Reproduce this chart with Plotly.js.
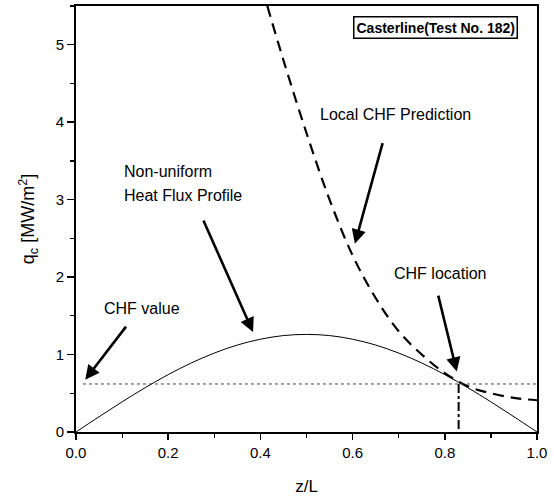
<!DOCTYPE html>
<html>
<head>
<meta charset="utf-8">
<script src="https://cdn.plot.ly/plotly-3.0.1.min.js"></script>
<style>
  html, body { margin: 0; padding: 0; background: #fff; }
  #chart { width: 554px; height: 497px; }
</style>
</head>
<body>
<div id="chart"></div>
<script>
// Non-uniform heat flux profile (solid thin)
const heatZ = [0, 0.05, 0.10, 0.15, 0.20, 0.25, 0.30, 0.35, 0.40, 0.45, 0.50, 0.55, 0.60, 0.65, 0.70, 0.75, 0.80, 0.85, 0.90, 0.95, 1.00];
const heatQ = [0, 0.197, 0.389, 0.572, 0.741, 0.891, 1.019, 1.123, 1.198, 1.245, 1.26, 1.245, 1.198, 1.123, 1.019, 0.891, 0.741, 0.572, 0.389, 0.197, 0];

// Local CHF prediction (dashed)
const chfZ = [0.415, 0.45, 0.50, 0.55, 0.60, 0.65, 0.70, 0.75, 0.80, 0.85, 0.90, 0.95, 1.00];
const chfQ = [5.50, 4.80, 3.86, 3.00, 2.28, 1.73, 1.30, 1.00, 0.76, 0.59, 0.50, 0.44, 0.41];

// CHF value (dotted horizontal) and CHF location (dash-dot vertical)
const chfValue = 0.62;
const chfValueZ = [0.015, 1.0];
const chfLocationZ = 0.83;

const xTicks = [0.0, 0.2, 0.4, 0.6, 0.8, 1.0];
const xTickText = ["0.0", "0.2", "0.4", "0.6", "0.8", "1.0"];
const yTicks = [0, 1, 2, 3, 4, 5];
const yTickText = ["0", "1", "2", "3", "4", "5"];

const FONT = "Liberation Sans, Arial, Helvetica, sans-serif";

const traces = [
  { x: heatZ, y: heatQ, mode: "lines", line: { color: "#000", width: 1, shape: "spline", smoothing: 1 }, hoverinfo: "skip" },
  { x: chfZ, y: chfQ, mode: "lines", line: { color: "#000", width: 2.2, dash: "11px,7px", shape: "spline" }, hoverinfo: "skip" },
  { x: chfValueZ, y: [chfValue, chfValue], mode: "lines", line: { color: "#444", width: 1, dash: "dot" }, hoverinfo: "skip" },
  { x: [chfLocationZ, chfLocationZ], y: [chfValue, 0], mode: "lines", line: { color: "#000", width: 2, dash: "dashdot" }, hoverinfo: "skip" }
];

function arrow(hx, hy, tx, ty) {
  return {
    x: hx, y: hy, ax: tx, ay: ty, xref: "x", yref: "y", axref: "x", ayref: "y",
    text: "", showarrow: true, arrowhead: 2, arrowsize: 1.1, arrowwidth: 2.6, arrowcolor: "#000"
  };
}
function label(x, y, text, size) {
  return { x: x, y: y, xref: "x", yref: "y", text: text, showarrow: false,
           xanchor: "left", yanchor: "middle", font: { family: FONT, size: size || 16, color: "#000" } };
}

const layout = {
  width: 554, height: 497,
  margin: { l: 76, r: 17, t: 6, b: 65 },
  paper_bgcolor: "#fff", plot_bgcolor: "#fff",
  showlegend: false,
  font: { family: FONT, color: "#000", size: 14 },
  xaxis: {
    range: [0, 1], tickvals: xTicks, ticktext: xTickText,
    showgrid: false, zeroline: false, showline: true, linecolor: "#000", linewidth: 2, mirror: true,
    ticks: "outside", ticklen: 6, tickwidth: 1.5, tickcolor: "#000",
    minor: { dtick: 0.1, ticks: "outside", ticklen: 4, tickwidth: 1.2, tickcolor: "#000", showgrid: false },
    tickfont: { size: 15 },
    title: { text: "z/L", font: { size: 17 }, standoff: 20 }
  },
  yaxis: {
    range: [0, 5.5], tickvals: yTicks, ticktext: yTickText,
    showgrid: false, zeroline: false, showline: true, linecolor: "#000", linewidth: 2, mirror: true,
    ticks: "outside", ticklen: 7, tickwidth: 1.5, tickcolor: "#000",
    minor: { dtick: 0.5, ticks: "outside", ticklen: 4, tickwidth: 1.2, tickcolor: "#000", showgrid: false },
    tickfont: { size: 15 },
    title: { text: "q<sub>c</sub> [MW/m<sup>2</sup>]", font: { size: 18 }, standoff: 16 }
  },
  annotations: [
    { xref: "paper", yref: "paper", x: 0.600, y: 0.950, xanchor: "left", yanchor: "middle",
      text: "<b>Casterline(Test No. 182)</b>", showarrow: false,
      font: { family: FONT, size: 14, color: "#000" },
      bordercolor: "#000", borderwidth: 1.5, borderpad: 2, bgcolor: "#fff" },
    label(0.525, 4.10, "Local CHF Prediction"),
    label(0.100, 3.36, "Non-uniform"),
    label(0.100, 3.05, "Heat Flux Profile"),
    label(0.057, 1.60, "CHF value"),
    label(0.685, 2.04, "CHF location"),
    arrow(0.605, 2.43, 0.666, 3.75),
    arrow(0.384, 1.29, 0.275, 2.75),
    arrow(0.020, 0.675, 0.111, 1.38),
    arrow(0.826, 0.78, 0.785, 1.78)
  ]
};

Plotly.newPlot("chart", traces, layout, { displayModeBar: false, staticPlot: true });
</script>
</body>
</html>
